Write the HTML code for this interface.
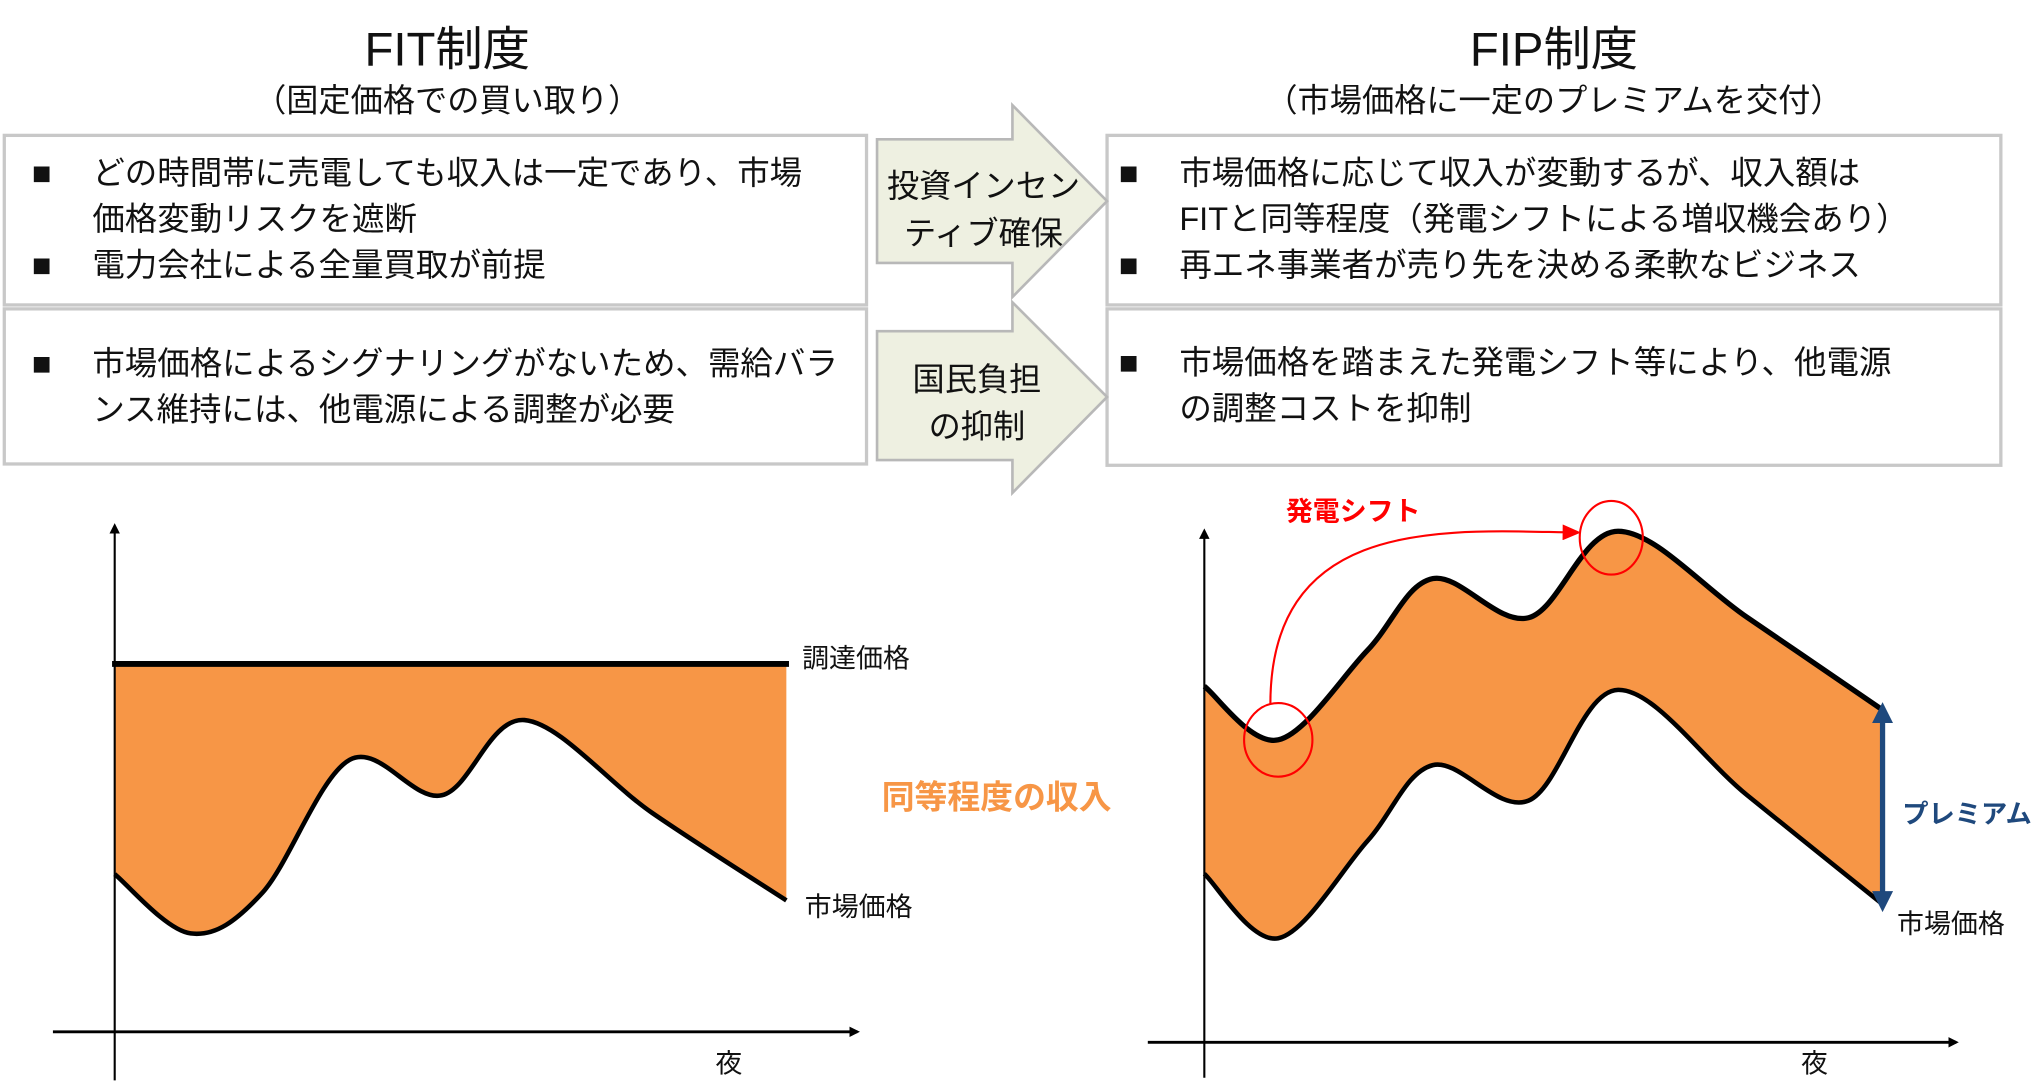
<!DOCTYPE html>
<html><head><meta charset="utf-8">
<style>
html,body{margin:0;padding:0;background:#fff;}
svg{display:block;}
text{font-family:"Liberation Sans","Noto Sans CJK JP",sans-serif;}
</style></head>
<body>
<svg id="root" width="2038" height="1087" viewBox="0 0 1550 827" xmlns="http://www.w3.org/2000/svg">
  <text x="340" y="50" font-size="36" text-anchor="middle" fill="#111">FIT制度</text>
  <text x="340" y="85" font-size="24.5" text-anchor="middle" fill="#111">（固定価格での買い取り）</text>
  <text x="1182" y="50" font-size="36" text-anchor="middle" fill="#111">FIP制度</text>
  <text x="1182" y="85" font-size="24.5" text-anchor="middle" fill="#111">（市場価格に一定のプレミアムを交付）</text>

  <rect x="3" y="103" width="656" height="129" fill="#fff" stroke="#c8c8c8" stroke-width="2.5"/>
  <rect x="3" y="235" width="656" height="118" fill="#fff" stroke="#c8c8c8" stroke-width="2.5"/>
  <g font-size="24.7" fill="#111">
    <text x="24" y="140">■</text>
    <text x="70" y="140">どの時間帯に売電しても収入は一定であり、市場</text>
    <text x="70" y="175">価格変動リスクを遮断</text>
    <text x="24" y="210">■</text>
    <text x="70" y="210">電力会社による全量買取が前提</text>
    <text x="24" y="285">■</text>
    <text x="70" y="285">市場価格によるシグナリングがないため、需給バラ</text>
    <text x="70" y="320">ンス維持には、他電源による調整が必要</text>
  </g>

  <rect x="842" y="103" width="680" height="129" fill="#fff" stroke="#c8c8c8" stroke-width="2.5"/>
  <rect x="842" y="235" width="680" height="119" fill="#fff" stroke="#c8c8c8" stroke-width="2.5"/>
  <g font-size="24.7" fill="#111">
    <text x="851" y="140">■</text>
    <text x="897" y="140">市場価格に応じて収入が変動するが、収入額は</text>
    <text x="897" y="175">FITと同等程度（発電シフトによる増収機会あり）</text>
    <text x="851" y="210">■</text>
    <text x="897" y="210">再エネ事業者が売り先を決める柔軟なビジネス</text>
    <text x="851" y="284">■</text>
    <text x="897" y="284">市場価格を踏まえた発電シフト等により、他電源</text>
    <text x="897" y="319">の調整コストを抑制</text>
  </g>

  <polygon points="667,106 770,106 770,80 842,153 770,226 770,200 667,200" fill="#eef0e1" stroke="#b8b8b8" stroke-width="2"/>
  <text x="748" y="150" font-size="24.5" text-anchor="middle" fill="#111">投資インセン</text>
  <text x="748" y="186" font-size="24.5" text-anchor="middle" fill="#111">ティブ確保</text>
  <polygon points="667,252 770,252 770,230 842,302 770,375 770,350 667,350" fill="#eef0e1" stroke="#b8b8b8" stroke-width="2"/>
  <text x="743" y="297" font-size="24.5" text-anchor="middle" fill="#111">国民負担</text>
  <text x="743" y="333" font-size="24.5" text-anchor="middle" fill="#111">の抑制</text>

  <defs>
    <marker id="ah" markerWidth="8" markerHeight="8" refX="6" refY="4" orient="auto" markerUnits="userSpaceOnUse">
      <path d="M0,0 L8,4 L0,8 z" fill="#000"/>
    </marker>
    <marker id="ahr" markerWidth="14" markerHeight="12" refX="12" refY="6" orient="auto" markerUnits="userSpaceOnUse">
      <path d="M0,0 L14,6 L0,12 z" fill="#f00"/>
    </marker>
    <marker id="ahb" markerWidth="16" markerHeight="16" refX="8" refY="8" orient="auto-start-reverse" markerUnits="userSpaceOnUse">
      <path d="M0,0 L16,8 L0,16 z" fill="#1f497d"/>
    </marker>
  </defs>

  <g id="fitChart"></g>
  <line x1="87" y1="822" x2="87" y2="400" stroke="#000" stroke-width="1.6" marker-end="url(#ah)"/>
  <line x1="40" y1="785" x2="652" y2="785" stroke="#000" stroke-width="2.2" marker-end="url(#ah)"/>
  <text x="610" y="508" font-size="20.5" fill="#111">調達価格</text>
  <text x="612" y="697" font-size="20.5" fill="#111">市場価格</text>
  <text x="544" y="816" font-size="20.5" fill="#111">夜</text>
  <text x="758" y="615" font-size="25" font-weight="bold" text-anchor="middle" fill="#f79646">同等程度の収入</text>

  <g id="fipChart"></g>
  <line x1="916" y1="820" x2="916" y2="404" stroke="#000" stroke-width="1.6" marker-end="url(#ah)"/>
  <line x1="873" y1="793" x2="1488" y2="793" stroke="#000" stroke-width="2.2" marker-end="url(#ah)"/>
  <text x="1443" y="710" font-size="20.5" fill="#111">市場価格</text>
  <text x="1370" y="816" font-size="20.5" fill="#111">夜</text>
  <text x="1447" y="626" font-size="20" font-weight="bold" fill="#1f497d">プレミアム</text>
  <text x="978" y="396" font-size="20.5" font-weight="bold" fill="#f00">発電シフト</text>
</svg>
<script>
// FIT chart data (time 0..10, price index)
var fitTimes = [0, 1.13, 2.2, 3.5, 4.87, 6.1, 8.0, 10];
var fitMarket = [30.6, 19.1, 27.0, 52.8, 45.9, 60.5, 42.5, 25.5];
var fitFixedPrice = 71.4;
// FIP chart data
var fipTimes = [0, 1.09, 2.4, 3.37, 4.78, 6.1, 8.0, 10];
var fipUpper = [69.1, 58.7, 76.0, 90.0, 82.4, 99.2, 82.5, 64.5];
var fipMarket = [32.7, 20.2, 39.0, 53.8, 46.9, 68.4, 48.0, 26.8];
var shiftFrom = 1.09, shiftTo = 6.0;

var NS = "http://www.w3.org/2000/svg";
function mk(tag, attrs){var e=document.createElementNS(NS,tag);for(var k in attrs)e.setAttribute(k,attrs[k]);return e;}
function fx(t){return 87 + t/10*(598-87);}
function fy(p){return 785 - p*3.92;}
function gx(t){return 916 + t/10*(1432-916);}
function gy(p){return 793 - p*3.92;}
function pts(ts, ps, sx, sy){return ts.map(function(t,i){return [sx(t), sy(ps[i])];});}
function curve(P){
  var d = "";
  for (var i=0;i<P.length-1;i++){
    var p0=P[i-1]||P[i], p1=P[i], p2=P[i+1], p3=P[i+2]||P[i+1];
    var c1=[p1[0]+(p2[0]-p0[0])/6, p1[1]+(p2[1]-p0[1])/6];
    var c2=[p2[0]-(p3[0]-p1[0])/6, p2[1]-(p3[1]-p1[1])/6];
    d += " C"+c1[0]+","+c1[1]+" "+c2[0]+","+c2[1]+" "+p2[0]+","+p2[1];
  }
  return d;
}
function interp(ts, ps, t){
  for (var i=0;i<ts.length-1;i++){ if (t<=ts[i+1]){ var f=(t-ts[i])/(ts[i+1]-ts[i]); return ps[i]+f*(ps[i+1]-ps[i]); } }
  return ps[ps.length-1];
}

// FIT
var fit = document.getElementById('fitChart');
var mP = pts(fitTimes, fitMarket, fx, fy);
var mR = mP.slice().reverse();
var fyv = fy(fitFixedPrice);
var area1 = mk('path', {d: "M"+fx(0)+","+fyv+" L"+fx(10)+","+fyv+" L"+mR[0][0]+","+mR[0][1]+curve(mR)+" Z", fill:"#f79646"});


fit.appendChild(area1);
var fl = mk('line', {x1:fx(0)-2, y1:fyv, x2:fx(10)+2, y2:fyv, stroke:"#000", "stroke-width":4.5});


fit.appendChild(fl);
var ml = mk('path', {d: "M"+mP[0][0]+","+mP[0][1]+curve(mP), fill:"none", stroke:"#000", "stroke-width":3.5});


fit.appendChild(ml);

// FIP
var fip = document.getElementById('fipChart');
var uP = pts(fipTimes, fipUpper, gx, gy);
var lP = pts(fipTimes, fipMarket, gx, gy);
var rev = lP.slice().reverse();
var area2 = mk('path', {d: "M"+uP[0][0]+","+uP[0][1]+curve(uP)+" L"+rev[0][0]+","+rev[0][1]+curve(rev)+" Z", fill:"#f79646"});


fip.appendChild(area2);
var ul = mk('path', {d: "M"+uP[0][0]+","+uP[0][1]+curve(uP), fill:"none", stroke:"#000", "stroke-width":4});


fip.appendChild(ul);
var ll = mk('path', {d: "M"+lP[0][0]+","+lP[0][1]+curve(lP), fill:"none", stroke:"#000", "stroke-width":3.5});


fip.appendChild(ll);

var ax = gx(shiftFrom), ay = gy(interp(fipTimes, fipUpper, shiftFrom));
var bx = gx(shiftTo), by = gy(interp(fipTimes, fipUpper, shiftTo));
var c1 = mk('ellipse', {cx:ax, cy:ay, rx:26, ry:28, fill:"none", stroke:"#f00", "stroke-width":1.6});


fip.appendChild(c1);
var c2 = mk('ellipse', {cx:bx, cy:by, rx:24, ry:28, fill:"none", stroke:"#f00", "stroke-width":1.6});


fip.appendChild(c2);
var arc = mk('path', {d:"M"+(ax-6)+","+(ay-27)+" C"+(ax-6)+","+(by-20)+" "+(bx-120)+","+(by-5)+" "+(bx-25)+","+(by-4), fill:"none", stroke:"#f00", "stroke-width":1.6, "marker-end":"url(#ahr)"});


fip.appendChild(arc);

var px = gx(10);
var pa = mk('line', {x1:px, y1:gy(fipUpper[fipUpper.length-1])+2, x2:px, y2:gy(fipMarket[fipMarket.length-1])-2, stroke:"#1f497d", "stroke-width":4, "marker-start":"url(#ahb)", "marker-end":"url(#ahb)"});


fip.appendChild(pa);
</script>
</body></html>
